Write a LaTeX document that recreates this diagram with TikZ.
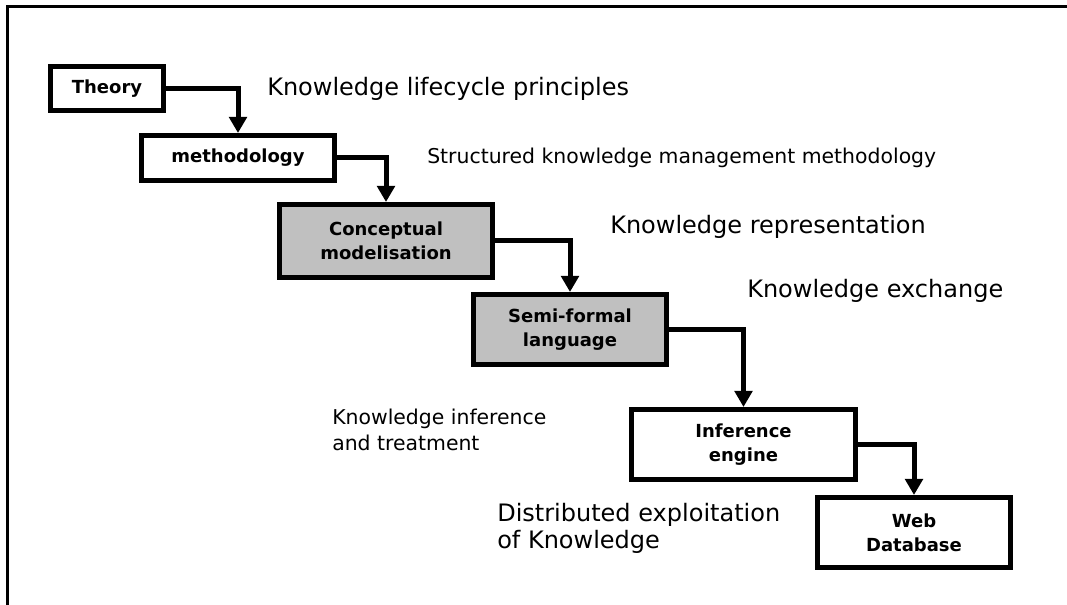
\documentclass[tikz,border=0pt]{standalone}
\usepackage{fontspec}
\setmainfont{DejaVu Sans}
\usetikzlibrary{arrows.meta}
\definecolor{boxgray}{RGB}{192,192,192}
\tikzset{
    stage/.style={draw, line width=3.75pt, fill=white, inner sep=0pt, align=center,
        font=\fontsize{13.5}{18}\selectfont\bfseries},
    shaded/.style={stage, fill=boxgray},
    flow/.style={line width=3.75pt, -{Triangle[width=13pt,length=12pt]}},
    note/.style={anchor=base west, align=left, inner sep=0pt,
        font=\fontsize{18}{20}\selectfont},
    smallnote/.style={note, font=\fontsize{15.3}{20}\selectfont},
}
\begin{document}
\begin{tikzpicture}[x=0.75pt,y=-0.75pt]
        \useasboundingbox (0,0) rectangle (1067,605);
        % frame
        \draw[line width=2.25pt] (7,605) -- (7,7) -- (1067,7);
        % boxes
        \node[stage, minimum width=84.75pt, minimum height=33pt] (theory) at (107,88.5) {Theory};
        \node[stage, minimum width=144.75pt, minimum height=33.75pt] (method) at (238,158) {methodology};
        \node[shaded, minimum width=159.75pt, minimum height=54.75pt] (concept) at (386,241) {Conceptual\\modelisation};
        \node[shaded, minimum width=144.75pt, minimum height=52.5pt] (semi) at (570,329.5) {Semi-formal\\language};
        \node[stage, minimum width=168pt, minimum height=52.5pt] (infer) at (743.5,444.5) {Inference\\engine};
        \node[stage, minimum width=144.75pt, minimum height=52.5pt] (webdb) at (914,532.5) {Web\\Database};
        % arrows
        \draw[flow] (theory.east) -| (method.north);
        \draw[flow] (method.east) -| (concept.north);
        \draw[flow] (concept.east) -| (semi.north);
        \draw[flow] (semi.east) -| (infer.north);
        \draw[flow] (infer.east) -| (webdb.north);
        % text
        \node[note] (lifecycle) at (267,96) {Knowledge lifecycle principles};
        \node[smallnote] (structured) at (427,164) {Structured knowledge management methodology};
        \node[note] (represent) at (610,234) {Knowledge representation};
        \node[note] (exchange) at (747,298) {Knowledge exchange};
        \node[smallnote] (treatment) at (332,451) {Knowledge inference\\and treatment};
        \node[note] (exploit) at (497,548) {Distributed exploitation\\of Knowledge};
    \end{tikzpicture}
\end{document}
